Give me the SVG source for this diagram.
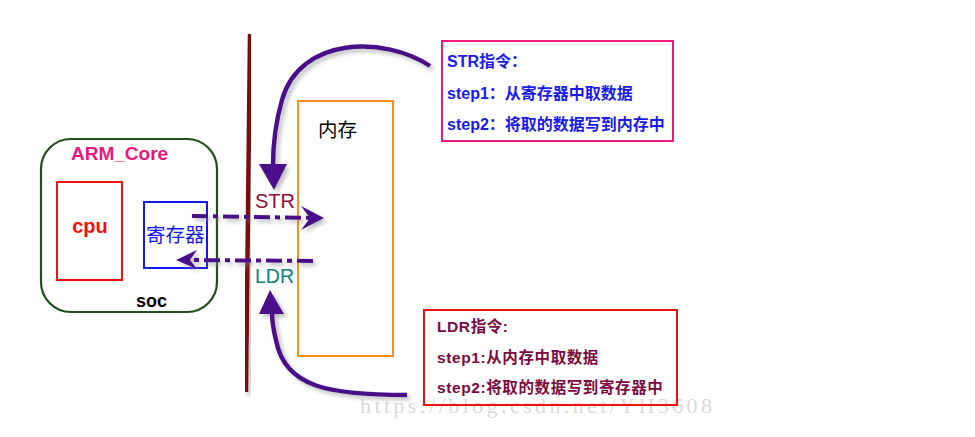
<svg xmlns="http://www.w3.org/2000/svg" width="975" height="437" viewBox="0 0 975 437">
<style>
.b{font-family:"Liberation Sans",Arial,"Noto Sans CJK SC",sans-serif;font-weight:bold}
.r{font-family:"Liberation Sans",Arial,sans-serif}
.cjk{font-family:"Liberation Sans","Noto Sans CJK SC",sans-serif}
.arr{fill:none;stroke:#4b0a8a;stroke-width:4.5}
.dash{fill:none;stroke:#4b0a8a;stroke-width:4;stroke-dasharray:16 5 5 5}
.head{fill:#4b0a8a}
.shadow{filter:url(#sh)}
</style>
<defs>
<filter id="sh" x="-20%" y="-20%" width="140%" height="140%">
<feDropShadow dx="3" dy="3" stdDeviation="2" flood-color="#888" flood-opacity="0.55"/>
</filter>
</defs>
<rect width="975" height="437" fill="#fff"/>
<text x="360" y="413" font-family="'Liberation Serif',serif" font-size="22" fill="#d9d9d9" textLength="352" lengthAdjust="spacing">https://blog.csdn.net/YH3608</text>

<g id="soc">
<rect x="41" y="139" width="176" height="173" rx="30" ry="30" fill="none" stroke="#1f4f1a" stroke-width="2.2"/>
<text class="b" x="71" y="160" font-size="19" fill="#e8177f">ARM_Core</text>
<text class="b" x="136" y="307" font-size="18" fill="#000">soc</text>
</g>
<g id="cpu">
<rect x="57" y="182" width="65" height="98" fill="none" stroke="#f01010" stroke-width="2"/>
<text class="b" x="90" y="233" font-size="20" fill="#f01010" text-anchor="middle">cpu</text>
</g>
<g id="reg">
<rect x="144" y="202" width="63" height="66" fill="none" stroke="#1414f0" stroke-width="2"/>
<text class="cjk" x="146" y="242" font-size="19.5" fill="#1414f0">寄存器</text>
</g>
<g id="bus">
<path class="shadow" d="M250 34 L246 392" stroke="#7a0a0a" stroke-width="4.5" fill="none"/>
</g>
<g id="mem">
<rect x="298" y="101" width="95" height="255" fill="none" stroke="#ff8c1a" stroke-width="2"/>
<text class="cjk" x="318" y="137" font-size="19.5" fill="#000">内存</text>
</g>
<g id="str-box">
<rect x="442" y="41" width="231" height="100" fill="none" stroke="#f0187f" stroke-width="2"/>
<g class="b" font-size="16" fill="#1a1af0">
<text x="447" y="67">STR指令：</text>
<text x="447" y="99">step1：从寄存器中取数据</text>
<text x="447" y="130">step2：将取的数据写到内存中</text>
</g>
</g>
<g id="ldr-box">
<rect x="424" y="310" width="253" height="95" fill="none" stroke="#f01010" stroke-width="2"/>
<g class="b" font-size="15.5" fill="#7a0a40" letter-spacing="0.6">
<text x="437" y="332">LDR指令:</text>
<text x="437" y="363">step1:从内存中取数据</text>
<text x="437" y="393">step2:将取的数据写到寄存器中</text>
</g>
</g>
<g id="connectors">
<g class="shadow">
<path class="arr" d="M430 66 C 385 36 300 36 282 100 C 274 128 273 150 273 166"/>
<path class="head" d="M259 164 L287 164 L274 190 Z"/>
<path class="arr" d="M407 395 C 330 395 285 388 276 340 C 273 328 272 320 272 312"/>
<path class="head" d="M259 314 L284 314 L270 290 Z"/>
<path class="dash" d="M192 216 L314 218"/>
<path class="head" d="M324 218 L301 206 L310 218 L301 230 Z"/>
<path class="dash" d="M313 261 L188 260"/>
<path class="head" d="M176 260 L197 250 L190 260 L197 269 Z"/>
</g>
</g>
<text class="r" x="255" y="208" font-size="20" fill="#8b0a3a">STR</text>
<text class="r" x="255" y="283" font-size="19.5" fill="#0a8080">LDR</text>
</svg>
